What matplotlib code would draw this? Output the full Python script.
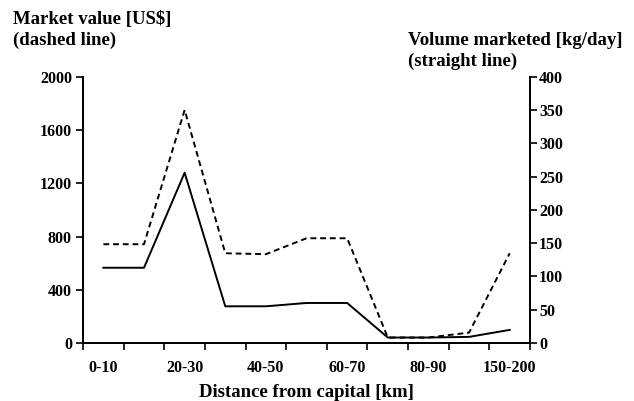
import matplotlib.pyplot as plt
import numpy as np

plt.rcParams['font.family'] = ['Liberation Serif', 'DejaVu Serif']
plt.rcParams['font.weight'] = 'bold'

distance = ['0-10', '10-20', '20-30', '30-40', '40-50', '50-60', '60-70',
            '70-80', '80-90', '90-150', '150-200']
market_value = [742, 742, 1752, 674, 667, 787, 787, 40, 40, 77, 674]
volume = [113, 113, 256, 55, 55, 60, 60, 8, 8, 9, 19.5]

fig = plt.figure(figsize=(6.34, 4.01), dpi=100)
ax = fig.add_axes([0.131, 0.145, 0.705, 0.663])
ax2 = ax.twinx()

x = np.arange(len(distance)) + 0.5
ax.plot(x, market_value, color='black', lw=1.4, linestyle=(0, (3, 2)))
ax2.plot(x, volume, color='black', lw=1.4)

ax.set_xlim(0, len(distance))
ax.set_ylim(0, 2000)
ax2.set_ylim(0, 400)
ax.set_yticks(range(0, 2001, 400))
ax2.set_yticks(range(0, 401, 50))

ax.set_xticks(np.arange(len(distance) + 1))
ax.set_xticklabels([])
ax.set_xticks(x[::2], minor=True)
ax.set_xticklabels(distance[::2], minor=True)
ax.tick_params(axis='x', which='minor', length=0, pad=12)
ax.tick_params(axis='x', which='major', length=5, width=1.2)

for a in (ax, ax2):
    a.spines['top'].set_visible(False)
    for s in a.spines.values():
        s.set_linewidth(1.3)
    a.tick_params(axis='y', length=5, width=1.2, labelsize=11.5, pad=3)
ax2.tick_params(axis='y', pad=1.5)
ax.tick_params(axis='x', which='both', labelsize=11.5)

ax.set_xlabel('Distance from capital [km]', fontsize=13.5, fontweight='bold', labelpad=6)
fig.text(0.02, 0.925, 'Market value [US$]\n(dashed line)', fontsize=13.5,
         fontweight='bold', va='center', ha='left', linespacing=1.25)
fig.text(0.643, 0.873, 'Volume marketed [kg/day]\n(straight line)', fontsize=13.5,
         fontweight='bold', va='center', ha='left', linespacing=1.25)

fig.savefig('out.png', dpi=100)
